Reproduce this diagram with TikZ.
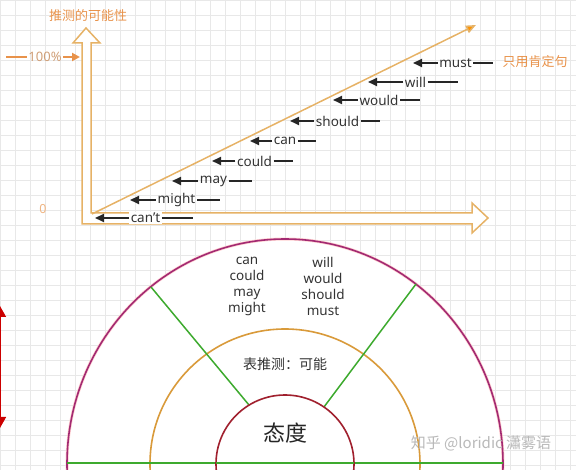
\documentclass[tikz,border=0pt]{standalone}
\usepackage{fontspec}
\setmainfont{Noto Sans}
\newfontfamily\cjk{Noto Sans CJK SC}
\usetikzlibrary{arrows.meta}
\definecolor{tanline}{HTML}{E6B266}
\definecolor{orangetxt}{HTML}{E8924A}
\definecolor{magentaarc}{HTML}{A32A72}
\definecolor{orangearc}{HTML}{D99A3A}
\definecolor{redarc}{HTML}{A0202E}
\definecolor{greenline}{HTML}{3DAA2E}
\begin{document}
\begin{tikzpicture}[x=1pt,y=-1pt,
  gridline/.style={black!9, line width=0.6pt},
  word/.style={font=\fontsize{13.5}{15}\selectfont, text=black!80, inner sep=1.5pt},
  pointer/.style={-{Triangle[length=9pt,width=8pt]}, line width=2pt, black!85},
  tail/.style={line width=2pt, black!85},
  cntext/.style={font=\cjk\fontsize{13}{15}\selectfont, text=orangetxt},
  inner/.style={font=\fontsize{13.5}{16}\selectfont, text=black!80, align=center}]
\useasboundingbox (0,0) rectangle (576,470);
\clip (0,0) rectangle (576,470);

\foreach \gx in {0,15,...,570} \draw[gridline] (\gx,0) -- (\gx,470);
\foreach \gy in {0,15,...,465} \draw[gridline] (0,\gy) -- (576,\gy);

\coordinate (c) at (285,464);
\fill[white] (c) ellipse [x radius=218pt, y radius=225pt];
\draw[pink!70, line width=3pt] (c) ellipse [x radius=218pt, y radius=225pt];
\draw[magentaarc, line width=1.6pt] (c) ellipse [x radius=218pt, y radius=225pt];
\draw[orangearc, line width=1.6pt] (c) circle [radius=135pt];

\coordinate (gl) at (67,463);
\coordinate (gr) at (503,463);
\coordinate (lo) at (151,287);
\coordinate (li) at (249,405);
\coordinate (ro) at (416,284);
\coordinate (ri) at (324,407);
\draw[greenline, line width=1.5pt] (gl) -- (gr);
\draw[greenline, line width=1.5pt] (lo) -- (li);
\draw[greenline, line width=1.5pt] (ro) -- (ri);
\fill[white] (c) circle [radius=68pt];
\draw[redarc, line width=1.6pt] (c) circle [radius=69pt];
\draw[greenline, line width=1.5pt] (216,463) -- (354,463);

\node[inner] (weak) at (247,286) {can\\could\\may\\might};
\node[inner] (strong) at (323,286) {will\\would\\should\\must};
\node[font=\cjk\fontsize{14}{16}\selectfont, text=black!80] (infer) at (285,364) {表推测：可能};
\node[font=\cjk\fontsize{22}{24}\selectfont, text=black!85] (attitude) at (285,433) {态度};

\coordinate (rt) at (0,306);
\coordinate (rb) at (0,428);
\draw[red!80!black, line width=1.5pt, {Triangle[length=11pt,width=12pt]}-{Triangle[length=11pt,width=12pt]}] (rt) -- (rb);

\draw[tanline, line width=1.5pt, fill=white, line join=miter]
  (82,224) -- (82,43) -- (73,43) -- (86,28) -- (100,43) -- (91,43) -- (91,213)
  -- (472,213) -- (472,203) -- (488,218) -- (472,233) -- (472,224) -- cycle;

\coordinate (o) at (92,214);
\coordinate (top) at (476,25);
\draw[tanline, line width=1.5pt, -{Triangle[length=10pt,width=8pt,fill=orange!85!yellow]}] (o) -- (top);

\node[cntext] (yaxis) at (88,16) {推测的可能性};
\node[cntext] (only) at (535,62) {只用肯定句};
\node[font=\fontsize{13}{15}\selectfont, text=orangetxt!80!black!70, inner sep=1pt] (full) at (45,57) {100\%};
\coordinate (full-left) at (6,57);
\coordinate (full-tip) at (80,57);
\draw[orangetxt, line width=2pt] (full-left) -- (full);
\draw[orangetxt, line width=2pt, -{Triangle[length=8pt,width=8pt]}] (full) -- (full-tip);
\node[font=\fontsize{12.5}{14}\selectfont, text=orangetxt!70] (zero) at (43,209) {0};

\foreach \name/\word/\x/\y/\tip/\tend in {
  must/must/455.5/63/413/493, will/will/415.5/82/368/458,
  would/would/379/100/333/420, should/should/337.5/121/290/380,
  can/can/285/141/250/316, could/could/254.5/161/212/293,
  may/may/213.5/181/172/252, might/might/176.5/200/130/220} {
  \node[word] (\name) at (\x,\y) {\word};
  \coordinate (\name-tip) at (\tip,\y);
  \coordinate (\name-end) at (\tend,\y);
  \draw[pointer] (\name) -- (\name-tip);
  \draw[tail] (\name) -- (\name-end);
}
\node[word, fill=white] (cant) at (145.5,218) {can’t};
\coordinate (cant-tip) at (95,218);
\coordinate (cant-end) at (193,218);
\draw[pointer] (cant) -- (cant-tip);
\draw[tail] (cant) -- (cant-end);

\node[font=\cjk\fontsize{15}{17}\selectfont, text=gray!55] (mark) at (481,443) {知乎 @loridic 瀟雾语};
\end{tikzpicture}
\end{document}
